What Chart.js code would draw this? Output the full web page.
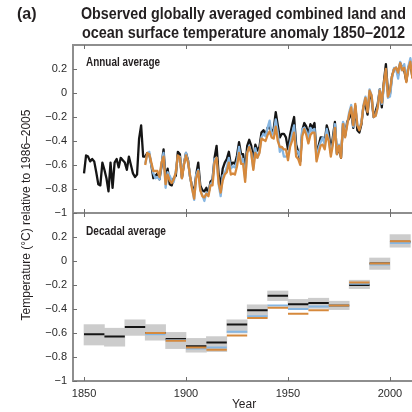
<!DOCTYPE html>
<html>
<head>
<meta charset="utf-8">
<script src="https://cdn.jsdelivr.net/npm/chart.js@4.4.0/dist/chart.umd.min.js"></script>
<style>
  html, body { margin: 0; padding: 0; background: #fff; }
  #wrap { position: relative; width: 412px; height: 412px; }
</style>
</head>
<body>
<div id="wrap"><canvas id="grafik" width="412" height="412"></canvas></div>
<script>
const FONT = '"Liberation Sans", Arial, sans-serif';

// annual anomalies (°C, rel. 1986-2005)
const hadStartYear = 1850;
const hadAnnual = [
  -0.67, -0.52, -0.53, -0.57, -0.55, -0.57, -0.66, -0.76, -0.77, -0.58,
  -0.64, -0.71, -0.82, -0.58, -0.79, -0.58, -0.55, -0.62, -0.54, -0.56,
  -0.58, -0.64, -0.53, -0.60, -0.67, -0.70, -0.68, -0.38, -0.27, -0.53,
  -0.53, -0.50, -0.51, -0.60, -0.71, -0.69, -0.67, -0.72, -0.61, -0.47,
  -0.72, -0.63, -0.76, -0.77, -0.71, -0.69, -0.49, -0.51, -0.71, -0.59,
  -0.50, -0.56, -0.70, -0.78, -0.82, -0.68, -0.58, -0.77, -0.81, -0.82,
  -0.79, -0.84, -0.74, -0.72, -0.54, -0.44, -0.68, -0.77, -0.63, -0.58,
  -0.55, -0.49, -0.60, -0.58, -0.59, -0.52, -0.41, -0.51, -0.51, -0.65,
  -0.44, -0.39, -0.44, -0.57, -0.43, -0.48, -0.45, -0.33, -0.31, -0.35,
  -0.29, -0.28, -0.33, -0.30, -0.16, -0.27, -0.37, -0.34, -0.34, -0.37,
  -0.47, -0.35, -0.27, -0.20, -0.43, -0.49, -0.57, -0.31, -0.25, -0.28,
  -0.35, -0.26, -0.29, -0.25, -0.52, -0.44, -0.37, -0.37, -0.41, -0.27,
  -0.33, -0.49, -0.37, -0.24, -0.51, -0.45, -0.54, -0.25, -0.36, -0.24,
  -0.21, -0.16, -0.29, -0.11, -0.31, -0.33, -0.26, -0.11, -0.10, -0.18,
  0.00, -0.05, -0.20, -0.15, -0.09, 0.03, -0.12, 0.09, 0.24, 0.01,
  -0.01, 0.14, 0.20, 0.21, 0.15, 0.25, 0.21, 0.19, 0.10, 0.21,
  0.26, 0.13, 0.17
];

const otherStartYear = 1880;
const mlostAnnual = [
  -0.60, -0.50, -0.51, -0.58, -0.65, -0.65, -0.65, -0.70, -0.58, -0.53,
  -0.76, -0.68, -0.73, -0.75, -0.72, -0.66, -0.52, -0.54, -0.71, -0.60,
  -0.52, -0.58, -0.69, -0.80, -0.88, -0.71, -0.65, -0.81, -0.86, -0.87,
  -0.84, -0.86, -0.77, -0.77, -0.58, -0.54, -0.75, -0.83, -0.73, -0.68,
  -0.66, -0.58, -0.68, -0.67, -0.68, -0.61, -0.50, -0.59, -0.59, -0.74,
  -0.50, -0.45, -0.50, -0.64, -0.50, -0.54, -0.50, -0.38, -0.39, -0.40,
  -0.35, -0.32, -0.37, -0.38, -0.28, -0.40, -0.45, -0.45, -0.47, -0.47,
  -0.56, -0.45, -0.40, -0.33, -0.53, -0.55, -0.60, -0.36, -0.30, -0.35,
  -0.42, -0.35, -0.33, -0.33, -0.57, -0.50, -0.44, -0.43, -0.47, -0.35,
  -0.40, -0.53, -0.43, -0.29, -0.51, -0.44, -0.54, -0.26, -0.37, -0.27,
  -0.18, -0.12, -0.27, -0.09, -0.27, -0.31, -0.25, -0.11, -0.04, -0.16,
  0.02, -0.02, -0.20, -0.19, -0.12, 0.02, -0.08, 0.08, 0.20, -0.03,
  0.02, 0.14, 0.20, 0.21, 0.17, 0.25, 0.19, 0.21, 0.09, 0.20,
  0.26, 0.12, 0.17
];
const gissAnnual = [
  -0.59, -0.51, -0.49, -0.60, -0.67, -0.71, -0.70, -0.72, -0.59, -0.50,
  -0.79, -0.66, -0.69, -0.73, -0.74, -0.65, -0.53, -0.53, -0.69, -0.59,
  -0.50, -0.57, -0.70, -0.79, -0.89, -0.68, -0.64, -0.81, -0.85, -0.90,
  -0.83, -0.84, -0.76, -0.74, -0.55, -0.54, -0.76, -0.86, -0.69, -0.67,
  -0.62, -0.54, -0.63, -0.61, -0.62, -0.57, -0.45, -0.57, -0.55, -0.71,
  -0.50, -0.44, -0.50, -0.63, -0.46, -0.54, -0.49, -0.37, -0.34, -0.36,
  -0.29, -0.23, -0.35, -0.33, -0.22, -0.33, -0.49, -0.45, -0.53, -0.53,
  -0.52, -0.42, -0.34, -0.27, -0.48, -0.49, -0.54, -0.30, -0.29, -0.32,
  -0.38, -0.29, -0.32, -0.30, -0.55, -0.46, -0.41, -0.37, -0.43, -0.30,
  -0.39, -0.50, -0.41, -0.26, -0.49, -0.43, -0.52, -0.24, -0.35, -0.26,
  -0.16, -0.10, -0.28, -0.11, -0.26, -0.30, -0.24, -0.10, -0.03, -0.15,
  0.03, -0.02, -0.20, -0.19, -0.11, 0.03, -0.09, 0.04, 0.19, -0.04,
  -0.03, 0.12, 0.21, 0.20, 0.12, 0.26, 0.19, 0.24, 0.12, 0.22,
  0.29, 0.18, 0.21
];

// decadal means + uncertainty range
const decadeStarts = [1850, 1860, 1870, 1880, 1890, 1900, 1910, 1920, 1930, 1940, 1950, 1960, 1970, 1980, 1990, 2000];
const hadDecadal = [-0.61, -0.63, -0.55, -0.60, -0.65, -0.71, -0.68, -0.53, -0.41, -0.29, -0.36, -0.35, -0.37, -0.20, -0.02, 0.16];
const mlostDecadal = [null, null, null, -0.60, -0.665, -0.72, -0.74, -0.62, -0.475, -0.39, -0.44, -0.41, -0.37, -0.18, -0.02, 0.165];
const gissDecadal = [null, null, null, -0.61, -0.66, -0.73, -0.72, -0.59, -0.46, -0.37, -0.40, -0.38, -0.37, -0.19, -0.03, 0.15];
const hadDecadalLow = [-0.70, -0.71, -0.62, -0.66, -0.73, -0.76, -0.755, -0.60, -0.465, -0.33, -0.40, -0.395, -0.405, -0.23, -0.07, 0.115];
const hadDecadalHigh = [-0.53, -0.56, -0.49, -0.53, -0.595, -0.645, -0.63, -0.49, -0.365, -0.25, -0.32, -0.31, -0.335, -0.16, 0.025, 0.22];

const yTicks = [-1, -0.8, -0.6, -0.4, -0.2, 0, 0.2];
const xTicks = [1850, 1900, 1950, 2000];

const BLACK = '#151515';
const ORANGE = '#d6893c';
const BLUE = '#86b6e2';
const FRAME = '#8e8e8e';

const yearPoints = (start, values) => values.map((v, i) => ({ x: start + i, y: v }));

// one flat segment per decade, broken with a null
function decadeSteps(values) {
  const pts = [];
  decadeStarts.forEach((d, i) => {
    if (values[i] === null) return;
    pts.push({ x: d, y: values[i] }, { x: d + 10, y: values[i] }, { x: d + 10, y: null });
  });
  return pts;
}

const minusFmt = (v) => (v < 0 ? '\u2212' + Math.abs(v) : String(v));

const annualLine = (data, color, order) => ({
  type: 'line', data, yAxisID: 'yTop', borderColor: color, borderWidth: 2.3,
  pointRadius: 0, tension: 0, order, borderJoinStyle: 'round'
});
const decadeLine = (data, color, order) => ({
  type: 'line', data: decadeSteps(data), yAxisID: 'yBot', borderColor: color, borderWidth: 2,
  pointRadius: 0, spanGaps: false, order, borderCapStyle: 'butt'
});

// frame, inner ticks and the texts around the panels
const framePlugin = {
  id: 'frame',
  afterDraw(chart) {
    const { ctx, chartArea } = chart;
    const x = chart.scales.x, top = chart.scales.yTop, bot = chart.scales.yBot;
    const left = chartArea.left, right = chartArea.right;
    const yA = top.top, yM = top.bottom, yB = bot.bottom;
    ctx.save();
    ctx.strokeStyle = FRAME;
    ctx.lineWidth = 2;
    ctx.beginPath();
    ctx.moveTo(right, yA); ctx.lineTo(left, yA); ctx.lineTo(left, yB); ctx.lineTo(right, yB);
    ctx.moveTo(left, yM); ctx.lineTo(right, yM);
    ctx.stroke();

    ctx.lineWidth = 1;
    ctx.strokeStyle = '#6e6e6e';
    ctx.beginPath();
    xTicks.forEach((t) => {
      const px = Math.round(x.getPixelForValue(t)) + 0.5;
      ctx.moveTo(px, yA); ctx.lineTo(px, yA + 4);
      ctx.moveTo(px, yM - 4); ctx.lineTo(px, yM + 4);
      ctx.moveTo(px, yB); ctx.lineTo(px, yB - 4);
    });
    [top, bot].forEach((s) => {
      yTicks.forEach((t) => {
        const py = Math.round(s.getPixelForValue(t)) + 0.5;
        ctx.moveTo(left, py); ctx.lineTo(left + 4, py);
      });
    });
    ctx.stroke();

    // condensed look: squeeze the text with fillText's maxWidth
    ctx.fillStyle = '#231f20';
    ctx.textBaseline = 'alphabetic';
    ctx.font = 'bold 16px ' + FONT;
    ctx.textAlign = 'left';
    ctx.fillText('(a)', 17, 19, 20);
    ctx.textAlign = 'center';
    const cx = (left + right) / 2 + 1;
    ctx.fillText('Observed globally averaged combined land and', cx, 19, 325);
    ctx.fillText('ocean surface temperature anomaly 1850\u20132012', cx, 38, 323);

    ctx.textAlign = 'left';
    ctx.font = 'bold 12px ' + FONT;
    ctx.fillText('Annual average', 86, 66, 74);
    ctx.fillText('Decadal average', 86, 235, 80);

    ctx.font = '12px ' + FONT;
    ctx.textAlign = 'center';
    ctx.textBaseline = 'middle';
    ctx.fillText('Year', 244, 405);
    ctx.translate(27, (yA + yB) / 2 + 2);
    ctx.rotate(-Math.PI / 2);
    ctx.fillText('Temperature (\u00b0C) relative to 1986\u20132005', 0, 0, 222);
    ctx.restore();
  }
};

const yScale = {
  type: 'linear', position: 'left', stack: 'panels', stackWeight: 1,
  min: -1, max: 0.4,
  grid: { display: false, drawTicks: false }, border: { display: false },
  afterBuildTicks: (s) => { s.ticks = yTicks.map((v) => ({ value: v })); },
  afterFit: (s) => { s.width = 73; },
  ticks: { padding: 6, autoSkip: false, color: '#2a2a2a', font: { family: FONT, size: 11 }, callback: minusFmt }
};

new Chart(document.getElementById('grafik'), {
  type: 'line',
  data: {
    datasets: [
      annualLine(yearPoints(otherStartYear, mlostAnnual), ORANGE, 1),
      annualLine(yearPoints(otherStartYear, gissAnnual), BLUE, 2),
      annualLine(yearPoints(hadStartYear, hadAnnual), BLACK, 3),
      decadeLine(mlostDecadal, ORANGE, 4),
      decadeLine(gissDecadal, BLUE, 5),
      decadeLine(hadDecadal, BLACK, 6),
      {
        type: 'bar', yAxisID: 'yBot', order: 10,
        data: decadeStarts.map((d, i) => ({ x: d + 5, y: [hadDecadalLow[i], hadDecadalHigh[i]] })),
        backgroundColor: '#cccccc', borderWidth: 0,
        barPercentage: 1, categoryPercentage: 1, grouped: false
      }
    ]
  },
  options: {
    responsive: false,
    devicePixelRatio: 1,
    animation: false,
    layout: { padding: { top: 45, right: 0, bottom: 0, left: 0 } },
    plugins: { legend: { display: false }, tooltip: { enabled: false }, title: { display: false } },
    scales: {
      x: {
        type: 'linear', min: 1844.6, max: 2010.8, offset: false,
        grid: { display: false, drawTicks: false }, border: { display: false },
        afterBuildTicks: (s) => { s.ticks = xTicks.map((v) => ({ value: v })); },
        afterFit: (s) => { s.height = 31; },
        ticks: { padding: 6, autoSkip: false, color: '#2a2a2a', font: { family: FONT, size: 11 }, callback: (v) => String(v) }
      },
      yBot: { ...yScale },
      yTop: { ...yScale }
    }
  },
  plugins: [framePlugin]
});
</script>
</body>
</html>
